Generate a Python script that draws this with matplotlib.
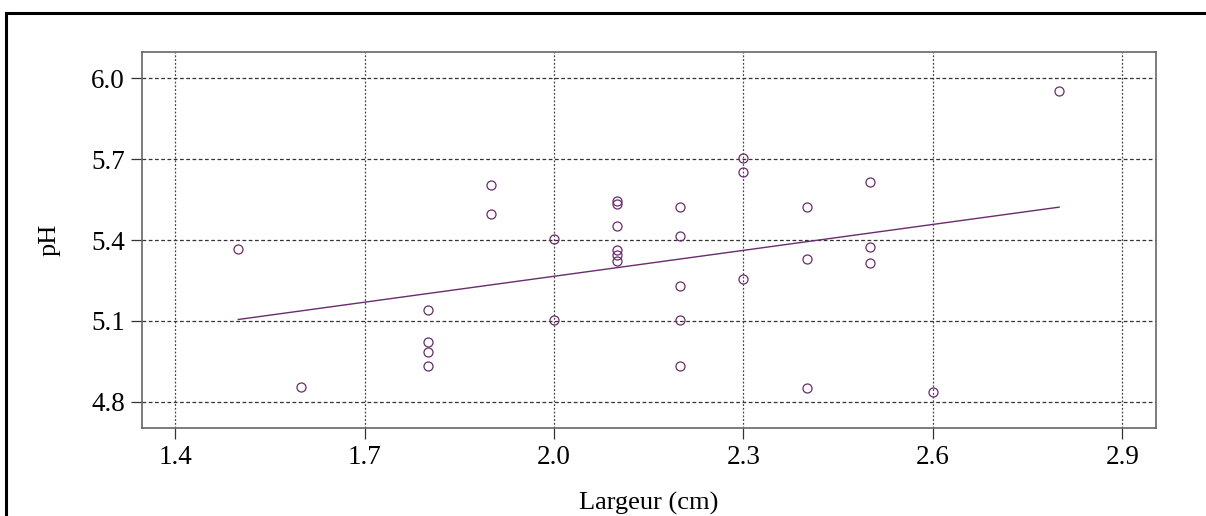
import numpy as np
import matplotlib.pyplot as plt
from matplotlib.lines import Line2D

# largeur (cm) vs pH
largeur = [1.5, 1.6, 1.8, 1.8, 1.8, 1.8, 1.9, 1.9, 2.0, 2.0,
           2.1, 2.1, 2.1, 2.1, 2.1, 2.1, 2.2, 2.2, 2.2, 2.2, 2.2,
           2.3, 2.3, 2.3, 2.4, 2.4, 2.4, 2.5, 2.5, 2.5, 2.6, 2.8]
ph = [5.365, 4.853, 5.142, 5.022, 4.983, 4.932, 5.604, 5.495, 5.402, 5.102,
      5.544, 5.533, 5.451, 5.362, 5.344, 5.321, 5.524, 5.414, 5.23, 5.102, 4.932,
      5.705, 5.651, 5.257, 5.524, 5.331, 4.851, 5.614, 5.373, 5.315, 4.834, 5.953]

# regression line ends
fit_x = [1.5, 2.8]
fit_y = [5.105, 5.522]

xticks = [1.4, 1.7, 2.0, 2.3, 2.6, 2.9]
yticks = [4.8, 5.1, 5.4, 5.7, 6.0]

plt.rcParams['font.family'] = ['Liberation Serif', 'DejaVu Serif']
col = '#6a2c6a'

fig = plt.figure(figsize=(12.06, 5.16), dpi=100)
ax = fig.add_axes([0.1175, 0.1705, 0.8408, 0.7287])

ax.plot(largeur, ph, linestyle='none', marker='o', markersize=6.5,
        markerfacecolor='none', markeredgecolor=col, markeredgewidth=0.9, zorder=3)
ax.plot(fit_x, fit_y, color=col, linewidth=1.0, zorder=3)

ax.set_xlim(1.347, 2.953)
ax.set_ylim(4.702, 6.098)
ax.set_xticks(xticks)
ax.set_yticks(yticks)
ax.set_xticklabels([f"{v:.1f}" for v in xticks])
ax.set_yticklabels([f"{v:.1f}" for v in yticks])

for v in xticks:
    ax.axvline(v, color='#444444', linewidth=0.9, linestyle=(0, (1.5, 1.5)), zorder=1)
for v in yticks:
    ax.axhline(v, color='#333333', linewidth=0.9, linestyle=(0, (3, 2)), zorder=1)

for s in ax.spines.values():
    s.set_color('#666666')
    s.set_linewidth(1.2)
ax.tick_params(direction='out', length=8, width=0.9, color='#333333',
               labelsize=19.5, pad=4)

ax.set_xlabel("Largeur (cm)", fontsize=19, labelpad=16)
ax.set_ylabel("pH", fontsize=19, labelpad=22)

# outer frame (top and left)
fig.add_artist(Line2D([6 / 1206, 6 / 1206], [0, 1 - 13 / 516], color='black',
                      linewidth=2.2, transform=fig.transFigure))
fig.add_artist(Line2D([6 / 1206, 1], [1 - 13 / 516, 1 - 13 / 516], color='black',
                      linewidth=2.2, transform=fig.transFigure))

fig.savefig("out.png", dpi=100)
